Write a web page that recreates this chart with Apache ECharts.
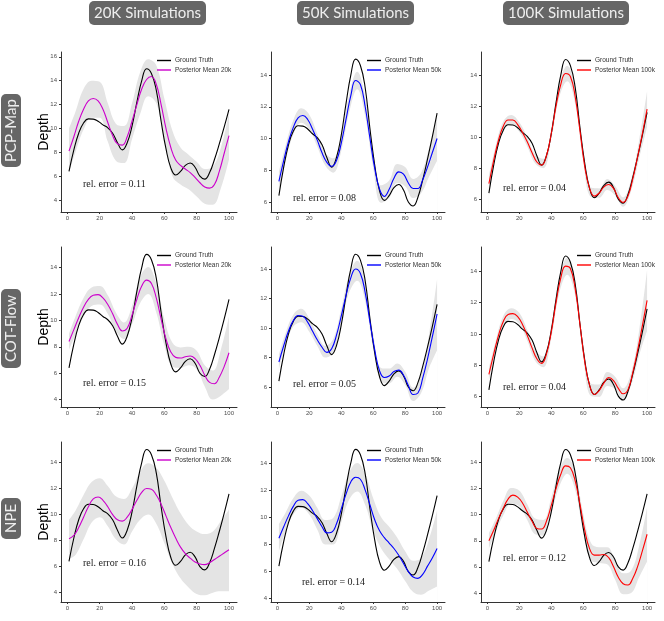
<!DOCTYPE html>
<html>
<head>
<meta charset="utf-8">
<script src="https://cdn.jsdelivr.net/npm/echarts@6/dist/echarts.min.js"></script>
<style>
  html, body { margin: 0; padding: 0; background: #fff; }
  #chart { width: 664px; height: 621px; }
</style>
</head>
<body>
<div id="chart"></div>
<script>
// x positions of the curves and of the ribbon edges
var xLine = [1,4,7,10,13,16,19,22,25,28,31,34,37,40,43,46,49,52,55,58,61,64,67,70,73,76,79,82,85,88,91,94,97,100];
var xBand = [1,5,10,15,20,25,30,35,40,45,50,55,60,65,70,75,80,85,90,95,100];
var xTicks = [0, 20, 40, 60, 80, 100];

var groundTruth = [6.4,8.2,9.6,10.45,10.8,10.78,10.6,10.3,10.05,9.6,8.8,8.2,8.8,10.2,12.2,14.0,15.0,14.6,13.2,10.6,8.3,6.7,6.1,6.4,6.9,7.1,6.75,6.0,5.75,6.3,7.4,8.7,10.1,11.6];

// PCP-Map
var pcpMean20 = [8.1,9.3,10.6,11.6,12.3,12.5,12.3,11.6,10.5,9.4,8.7,8.6,9.3,10.6,12.0,13.3,14.1,14.35,13.7,12.0,10.0,8.4,7.35,6.9,6.6,6.3,5.9,5.45,5.1,5.0,5.3,6.4,7.9,9.4];
var pcpUpper20 = [10.0,11.4,13.3,14.0,13.9,12.1,10.4,10.2,12.1,14.7,15.8,15.3,12.5,9.8,8.4,7.8,7.2,6.6,6.8,8.4,11.3];
var pcpLower20 = [6.3,8.0,9.9,10.9,10.9,8.9,7.3,7.1,9.1,11.2,12.7,12.1,8.9,6.0,5.3,4.9,4.3,3.7,3.6,5.0,7.4];
var pcpMean50 = [7.3,8.6,9.8,10.7,11.3,11.45,11.2,10.6,9.9,9.1,8.5,8.25,8.6,9.7,11.2,12.7,13.65,13.4,12.0,10.0,8.1,6.8,6.35,6.8,7.5,7.9,7.75,7.2,6.85,6.85,7.4,8.2,9.1,10.0];
var pcpUpper50 = [7.9,9.5,11.15,11.9,11.5,10.3,9.1,8.75,10.2,12.75,14.2,12.6,9.25,7.05,7.35,8.4,8.2,7.45,7.85,9.4,11.4];
var pcpLower50 = [6.7,8.5,10.25,11.0,10.6,9.5,8.3,7.85,9.2,11.65,13.1,11.4,8.15,5.95,6.25,7.2,7.0,6.25,6.55,7.6,8.6];
var pcpMean100 = [7.0,8.5,9.8,10.7,11.1,11.1,10.8,10.3,9.7,9.0,8.4,8.2,8.8,10.2,12.0,13.4,14.1,13.9,12.6,10.4,8.1,6.7,6.2,6.4,6.8,6.95,6.7,6.1,5.8,6.2,7.3,8.7,10.2,11.8];
var pcpUpper100 = [7.5,9.35,11.0,11.42,10.95,10.0,8.9,8.6,10.55,13.45,14.6,13.05,9.15,6.75,6.7,7.3,6.85,6.12,7.25,9.8,12.95];
var pcpLower100 = [6.5,8.65,10.4,10.82,10.35,9.4,8.3,8.0,9.85,12.55,13.6,12.15,8.45,6.15,6.1,6.6,6.25,5.52,6.55,8.6,10.65];

// COT-Flow
var cotMean20 = [8.4,9.3,10.2,11.0,11.6,11.9,11.95,11.7,11.2,10.5,9.7,9.2,9.4,10.4,11.6,12.6,13.05,12.8,11.7,10.1,8.6,7.6,7.2,7.15,7.25,7.3,7.1,6.6,5.85,5.3,5.2,5.7,6.5,7.55];
var cotUpper20 = [9.0,10.3,11.7,12.5,12.6,11.9,10.6,9.85,11.1,13.3,14.05,12.8,10.1,8.3,7.95,8.0,7.7,6.6,6.2,7.8,10.3];
var cotLower20 = [7.8,8.9,10.3,11.1,11.2,10.5,9.2,8.6,9.7,11.3,12.0,10.6,8.1,6.5,6.4,6.6,6.3,5.0,4.0,4.3,4.8];
var cotMean50 = [7.7,8.8,9.8,10.5,10.85,10.8,10.4,9.8,9.2,8.7,8.35,8.6,9.5,10.8,12.2,13.4,14.0,13.7,12.4,10.4,8.5,7.1,6.65,6.75,7.05,7.15,6.8,6.1,5.5,5.6,6.6,7.9,9.4,10.95];
var cotUpper50 = [8.2,9.6,10.9,11.3,10.65,9.6,8.8,9.25,11.3,13.6,14.55,13.0,9.6,7.3,7.25,7.6,7.05,5.95,6.8,9.6,13.3];
var cotLower50 = [7.2,8.8,10.1,10.4,9.75,8.8,8.0,8.35,10.3,12.4,13.2,11.8,8.6,6.4,6.25,6.7,6.15,5.05,5.6,7.3,8.5];
var cotMean100 = [7.4,8.7,9.9,10.8,11.25,11.3,11.1,10.6,9.9,9.1,8.4,8.1,8.7,10.1,12.0,13.6,14.35,14.2,12.9,10.6,8.2,6.7,6.1,6.35,6.85,7.2,7.0,6.5,6.15,6.4,7.5,8.9,10.5,12.15];
var cotUpper100 = [7.8,9.45,11.15,11.65,11.35,10.25,8.95,8.55,10.5,13.6,14.9,13.35,9.45,6.8,6.75,7.55,7.25,6.5,7.5,10.2,14.1];
var cotLower100 = [7.0,8.75,10.45,10.95,10.65,9.55,8.25,7.85,9.7,12.6,13.8,12.45,8.55,6.0,5.95,6.65,6.45,5.8,6.7,8.6,10.2];

// NPE
var npeMean20 = [8.15,8.4,9.0,9.8,10.6,11.2,11.35,11.1,10.6,10.0,9.6,9.5,9.8,10.4,11.1,11.7,12.0,11.95,11.5,10.8,9.9,9.0,8.2,7.5,7.0,6.65,6.35,6.2,6.15,6.3,6.55,6.8,7.05,7.3];
var npeUpper20 = [9.6,10.3,11.5,12.5,12.8,12.2,11.4,11.2,12.0,13.3,13.95,13.6,12.6,11.3,10.1,9.2,8.7,8.5,8.7,9.5,10.4];
var npeLower20 = [6.6,6.9,8.1,9.4,9.8,9.1,8.1,7.7,8.7,9.6,10.0,9.3,7.8,6.2,5.1,4.4,3.9,3.8,4.0,4.1,4.1];
var npeMean50 = [8.45,9.3,10.1,10.8,11.25,11.3,11.0,10.5,9.9,9.3,8.85,8.9,9.5,10.6,11.7,12.6,12.95,12.8,12.0,10.9,9.8,9.0,8.5,8.1,7.7,7.2,6.6,6.0,5.6,5.5,5.8,6.4,7.0,7.7];
var npeUpper50 = [9.5,10.3,11.4,11.95,11.6,10.7,9.8,9.95,11.5,13.3,14.0,13.2,11.4,10.0,9.3,8.5,7.5,6.8,7.0,8.4,10.5];
var npeLower50 = [7.5,8.9,10.2,10.7,10.2,9.1,8.0,8.0,9.6,11.3,11.9,10.9,9.0,7.7,6.9,6.2,5.3,4.5,4.3,4.6,4.9];
var npeMean100 = [8.0,8.8,9.7,10.5,11.2,11.5,11.35,10.9,10.2,9.5,8.95,8.9,9.5,10.7,12.0,13.1,13.75,13.6,12.6,10.8,8.8,7.4,6.9,6.9,6.95,6.7,6.0,5.2,4.7,4.6,5.1,6.0,7.2,8.5];
var npeUpper100 = [8.6,9.6,11.05,12.05,11.85,10.8,9.7,9.6,11.3,13.45,14.35,13.3,10.1,7.8,7.5,7.5,6.5,5.5,5.7,7.6,10.6];
var npeLower100 = [7.4,8.6,9.95,10.85,10.65,9.6,8.5,8.4,10.1,12.15,13.15,11.9,8.7,6.5,6.3,6.2,5.0,3.9,4.0,5.2,6.4];

var colTitles = ['20K Simulations', '50K Simulations', '100K Simulations'];
var rowTitles = ['PCP-Map', 'COT-Flow', 'NPE'];
var meanNames = ['Posterior Mean 20k', 'Posterior Mean 50k', 'Posterior Mean 100k'];
var meanColors = ['#cc00cc', '#0000ff', '#ff0000'];
var relErrors = ['rel. error = 0.11', 'rel. error = 0.08', 'rel. error = 0.04',
                 'rel. error = 0.15', 'rel. error = 0.05', 'rel. error = 0.04',
                 'rel. error = 0.16', 'rel. error = 0.14', 'rel. error = 0.12'];
var yRanges = [[3.0, 16.4], [5.37, 15.45], [5.18, 15.48],
               [3.44, 15.56], [4.65, 15.49], [5.3, 15.58],
               [3.28, 15.58], [3.76, 15.54], [3.3, 15.58]];
var yTicks = [[4,6,8,10,12,14,16], [6,8,10,12,14], [6,8,10,12,14],
              [4,6,8,10,12,14], [6,8,10,12,14], [6,8,10,12,14],
              [4,6,8,10,12,14], [4,6,8,10,12,14], [4,6,8,10,12,14]];

var means = [pcpMean20, pcpMean50, pcpMean100, cotMean20, cotMean50, cotMean100, npeMean20, npeMean50, npeMean100];
var uppers = [pcpUpper20, pcpUpper50, pcpUpper100, cotUpper20, cotUpper50, cotUpper100, npeUpper20, npeUpper50, npeUpper100];
var lowers = [pcpLower20, pcpLower50, pcpLower100, cotLower20, cotLower50, cotLower100, npeLower20, npeLower50, npeLower100];

// layout (pixels)
var colLeft = [61, 271, 481], colRight = [237, 445, 655];
var rowTop = [52, 247, 442], rowBottom = [212, 407, 602];
var errPos = [[83,184],[293,198],[503,188],[83,383],[293,384],[503,387],[83,563],[302,582],[503,558]];

function pairs(xs, ys) {
  return xs.map(function (x, i) { return [x, ys[i]]; });
}

var grids = [], xAxes = [], yAxes = [], series = [], legends = [], graphics = [];

for (var i = 0; i < 9; i++) {
  var r = Math.floor(i / 3), c = i % 3;
  grids.push({
    left: colLeft[c], top: rowTop[r],
    width: colRight[c] - colLeft[c], height: rowBottom[r] - rowTop[r]
  });
  xAxes.push({
    gridIndex: i, type: 'value', min: -3.95, max: 104.95, z: 5,
    splitLine: { show: false },
    axisLine: { onZero: false, lineStyle: { color: '#333', width: 1 } },
    axisTick: { customValues: xTicks, length: 2, lineStyle: { color: '#333' } },
    axisLabel: { customValues: xTicks, fontSize: 6, color: '#4d4d4d', margin: 3, fontFamily: 'Liberation Sans' }
  });
  yAxes.push({
    gridIndex: i, type: 'value', min: yRanges[i][0], max: yRanges[i][1], z: 5,
    splitLine: { show: false },
    axisLine: { show: true, onZero: false, lineStyle: { color: '#333', width: 1 } },
    axisTick: { show: true, customValues: yTicks[i], length: 2, lineStyle: { color: '#333' } },
    axisLabel: { customValues: yTicks[i], fontSize: 6, color: '#4d4d4d', margin: 4, fontFamily: 'Liberation Sans' }
  });

  // ribbon: grey below the upper edge, then white below the lower edge
  series.push({
    type: 'line', xAxisIndex: i, yAxisIndex: i, z: 1,
    data: pairs(xBand, uppers[i]), symbol: 'none', smooth: 0.4,
    lineStyle: { opacity: 0 }, areaStyle: { color: '#e4e4e4', opacity: 1, origin: 'start' }, silent: true
  });
  series.push({
    type: 'line', xAxisIndex: i, yAxisIndex: i, z: 1,
    data: pairs(xBand, lowers[i]), symbol: 'none', smooth: 0.4,
    lineStyle: { opacity: 0 }, areaStyle: { color: '#ffffff', opacity: 1, origin: 'start' }, silent: true
  });
  series.push({
    name: 'Ground Truth', type: 'line', xAxisIndex: i, yAxisIndex: i, z: 3,
    data: pairs(xLine, groundTruth), symbol: 'none', smooth: 0.45,
    lineStyle: { color: '#000', width: 1.1 }, itemStyle: { color: '#000' }
  });
  series.push({
    name: meanNames[c], type: 'line', xAxisIndex: i, yAxisIndex: i, z: 3,
    data: pairs(xLine, means[i]), symbol: 'none', smooth: 0.45,
    lineStyle: { color: meanColors[c], width: 1.1 }, itemStyle: { color: meanColors[c] }
  });

  legends.push({
    data: ['Ground Truth', meanNames[c]],
    orient: 'vertical', left: colLeft[c] + 96, top: rowTop[r] + 5,
    icon: 'rect', itemWidth: 14, itemHeight: 1.4, itemGap: 2.5,
    textStyle: { fontSize: 6.5, color: '#333', fontFamily: 'Liberation Sans', padding: [0, 0, 0, -1] },
    padding: 0, z: 10
  });

  graphics.push({
    type: 'text', x: errPos[i][0], y: errPos[i][1], z: 100,
    style: { text: relErrors[i], font: '10px "Liberation Serif"', fill: '#222',
             textAlign: 'left', textVerticalAlign: 'middle', verticalAlign: 'middle' }
  });
}

// column headers
var headBox = [[89, 117], [297, 117], [503, 126]];
colTitles.forEach(function (t, c) {
  graphics.push({
    type: 'rect', shape: { x: headBox[c][0], y: 1, width: headBox[c][1], height: 24, r: 5 },
    style: { fill: '#666666' }
  });
  graphics.push({
    type: 'text', x: headBox[c][0] + headBox[c][1] / 2, y: 13.5, z: 100,
    style: { text: t, font: '15px Lato', fill: '#eeeeee',
             textAlign: 'center', align: 'center', textVerticalAlign: 'middle', verticalAlign: 'middle' }
  });
});

// row labels and y axis title
var rowBox = [[94, 73], [289, 79], [498, 41]];
rowTitles.forEach(function (t, r) {
  graphics.push({
    type: 'rect', shape: { x: 1, y: rowBox[r][0], width: 20, height: rowBox[r][1], r: 5 },
    style: { fill: '#666666' }
  });
  graphics.push({
    type: 'text', x: 11.5, y: rowBox[r][0] + rowBox[r][1] / 2, rotation: Math.PI / 2, z: 100,
    style: { text: t, font: '15px Lato', fill: '#eeeeee',
             textAlign: 'center', align: 'center', textVerticalAlign: 'middle', verticalAlign: 'middle' }
  });
  graphics.push({
    type: 'text', x: 44, y: (rowTop[r] + rowBottom[r]) / 2, rotation: Math.PI / 2, z: 100,
    style: { text: 'Depth', font: '14px "Liberation Sans"', fill: '#000',
             textAlign: 'center', align: 'center', textVerticalAlign: 'middle', verticalAlign: 'middle' }
  });
});

var chart = echarts.init(document.getElementById('chart'));
chart.setOption({
  animation: false,
  backgroundColor: '#fff',
  grid: grids,
  xAxis: xAxes,
  yAxis: yAxes,
  legend: legends,
  series: series,
  graphic: graphics
});
</script>
</body>
</html>
